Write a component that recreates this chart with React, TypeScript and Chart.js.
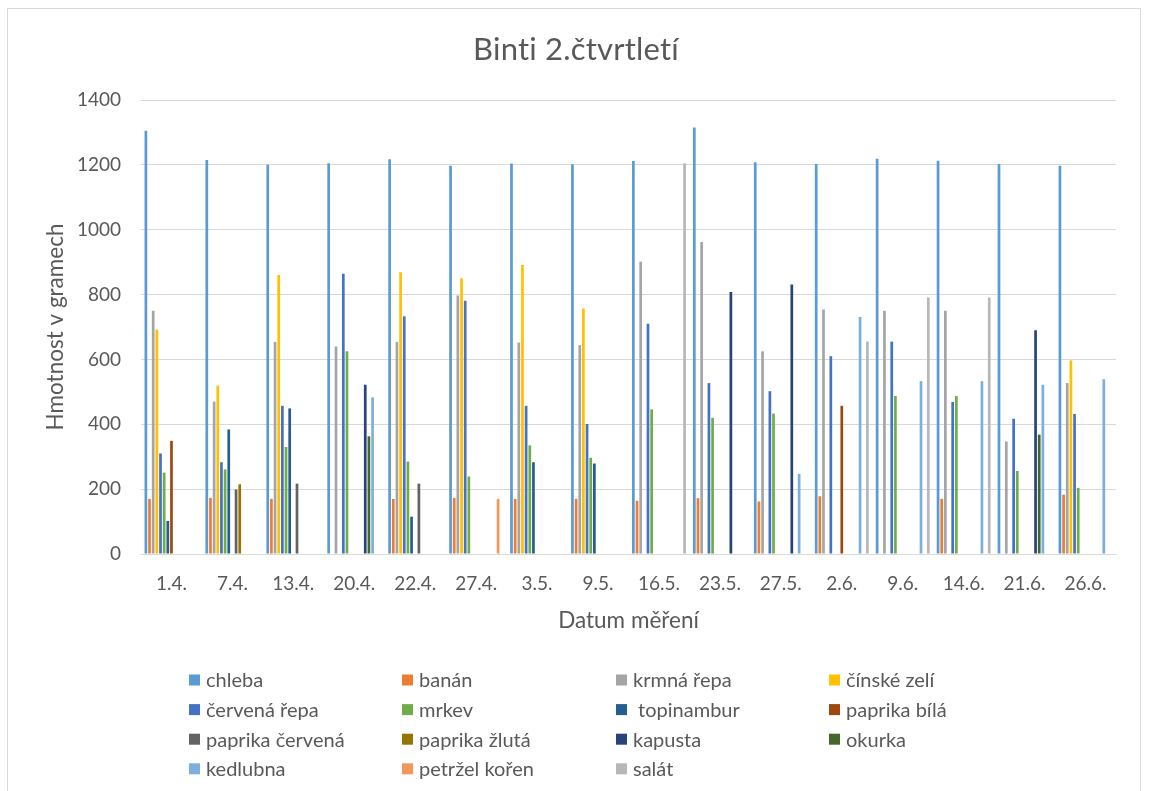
import React, { useEffect, useRef } from "react";
import { Chart, registerables } from "chart.js";

Chart.register(...registerables);

const chartTitle = "Binti 2.čtvrtletí";

const categories = ["1.4.", "7.4.", "13.4.", "20.4.", "22.4.", "27.4.", "3.5.", "9.5.", "16.5.", "23.5.", "27.5.", "2.6.", "9.6.", "14.6.", "21.6.", "26.6."];

const seriesNames = ["chleba", "banán", "krmná řepa", "čínské zelí", "červená řepa", "mrkev", " topinambur", "paprika bílá", "paprika červená", "paprika žlutá", "kapusta", "okurka", "kedlubna", "petržel kořen", "salát"];

const seriesColors = ["#5B9BD5", "#ED7D31", "#A5A5A5", "#FFC000", "#4472C4", "#70AD47", "#255E91", "#9E480E", "#636363", "#997300", "#264478", "#43682B", "#7CAFDD", "#F1975A", "#B7B7B7"];

const chleba = [1305, 1215, 1200, 1205, 1217, 1197, 1204, 1202, 1212, 1315, 1208, 1203, 1219, 1213, 1203, 1197];
const banan = [170, 173, 170, null, 170, 173, 170, 170, 164, 172, 162, 178, null, 170, null, 183];
const krmnaRepa = [750, 470, 654, 640, 654, 797, 652, 644, 901, 962, 625, 754, 750, 750, 347, 527];
const cinskeZeli = [692, 519, 860, null, 869, 850, 891, 757, null, null, null, null, null, null, null, 597];
const cervenaRepa = [310, 283, 457, 864, 733, 781, 457, 401, 710, 527, 502, 610, 655, 469, 417, 432];
const mrkev = [251, 261, 330, 625, 285, 239, 335, 297, 446, 420, 433, null, 487, 487, 256, 204];
const topinambur = [102, 384, 449, null, 115, null, 283, 279, null, null, null, null, null, null, null, null];
const paprikaBila = [349, null, null, null, null, null, null, null, null, null, null, 457, null, null, null, null];
const paprikaCervena = [null, 199, 217, null, 217, null, null, null, null, null, null, null, null, null, null, null];
const paprikaZluta = [null, 215, null, null, null, null, null, null, null, null, null, null, null, null, null, null];
const kapusta = [null, null, null, 522, null, null, null, null, null, 808, 831, null, null, null, 690, null];
const okurka = [null, null, null, 363, null, null, null, null, null, null, null, null, null, null, 368, null];
const kedlubna = [null, null, null, 483, null, null, null, null, null, null, 247, 731, 533, 533, 522, 539];
const petrzelKoren = [null, null, null, null, null, 170, null, null, null, null, null, null, null, null, null, null];
const salat = [null, null, null, null, null, null, null, null, 1205, null, null, 655, 791, 791, null, null];

const seriesValues = [chleba, banan, krmnaRepa, cinskeZeli, cervenaRepa, mrkev, topinambur, paprikaBila, paprikaCervena, paprikaZluta, kapusta, okurka, kedlubna, petrzelKoren, salat];

const yTicks = [0, 200, 400, 600, 800, 1000, 1200, 1400];

const FONT = "Lato, 'Open Sans', sans-serif";
const TEXT = "#595959";

const legendCols = [189, 402, 616, 829];
const legendRow0 = 680;
const legendRowStep = 29.6;

const decorPlugin = {
  id: "decor",
  afterDraw(chart: any) {
    const ctx = chart.ctx;
    ctx.save();
    // chart frame
    ctx.strokeStyle = "#D9D9D9";
    ctx.lineWidth = 1;
    ctx.strokeRect(7.5, 8.5, 1133, 800);
    // title, centred on the whole chart frame (letter spacing breaks the "ti" ligature)
    ctx.fillStyle = TEXT;
    ctx.font = `31px ${FONT}`;
    ctx.textAlign = "center";
    ctx.textBaseline = "middle";
    try { (ctx as any).letterSpacing = "0.2px"; } catch (e) {}
    ctx.fillText(chartTitle, 576, 50);
    try { (ctx as any).letterSpacing = "0px"; } catch (e) {}
    // legend grid
    ctx.font = `20px ${FONT}`;
    ctx.textAlign = "left";
    chart.data.datasets.forEach((ds: any, i: number) => {
      const col = i % 4;
      const row = Math.floor(i / 4);
      const x = legendCols[col];
      const y = legendRow0 + row * legendRowStep;
      ctx.fillStyle = ds.backgroundColor;
      ctx.fillRect(x, y - 5.5, 11, 11);
      ctx.fillStyle = TEXT;
      ctx.fillText(ds.label, x + 17, y + 1);
    });
    ctx.restore();
  },
};

export default function App() {
  const ref = useRef<HTMLCanvasElement>(null);

  useEffect(() => {
    if (!ref.current) return;
    const chart = new Chart(ref.current, {
      type: "bar",
      data: {
        labels: categories,
        datasets: seriesNames.map((name, i) => ({
          label: name,
          data: seriesValues[i],
          backgroundColor: seriesColors[i],
          borderWidth: 0,
          categoryPercentage: 0.9,
          barPercentage: 0.74,
        })),
      },
      options: {
        responsive: false,
        animation: false,
        layout: { padding: { left: 0, right: 33, top: 100, bottom: 147 } },
        plugins: {
          legend: { display: false },
          tooltip: { enabled: false },
          title: { display: false },
        },
        scales: {
          x: {
            grid: { display: false, drawTicks: false },
            border: { display: true, color: "#D9D9D9" },
            ticks: { color: TEXT, font: { family: FONT, size: 19 }, padding: 18, maxRotation: 0, autoSkip: false },
            title: {
              display: true,
              text: "Datum měření",
              color: TEXT,
              font: { family: FONT, size: 22.5 },
              padding: { top: 0, bottom: 10 },
            },
            afterFit: (scale: any) => {
              scale.height = 90;
            },
          },
          y: {
            min: 0,
            max: 1400,
            afterBuildTicks: (scale: any) => {
              scale.ticks = yTicks.map((v) => ({ value: v }));
            },
            grid: { color: "#D9D9D9", drawTicks: false },
            border: { display: false },
            ticks: {
              color: TEXT,
              font: { family: FONT, size: 19 },
              padding: 20,
              callback: (v: any) => String(v),
            },
            title: {
              display: true,
              text: "Hmotnost v gramech",
              color: TEXT,
              font: { family: FONT, size: 22.5 },
              padding: { top: 42, bottom: 0 },
            },
            afterFit: (scale: any) => {
              scale.width = 141;
            },
          },
        },
      },
      plugins: [decorPlugin],
    });
    return () => chart.destroy();
  }, []);

  return (
    <div style={{ position: "fixed", left: 0, top: 0, width: 1149, height: 791, background: "#fff" }}>
      <canvas ref={ref} width={1149} height={791} />
    </div>
  );
}
